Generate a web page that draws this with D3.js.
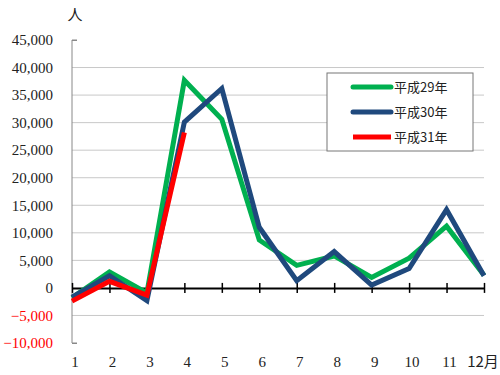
<!DOCTYPE html>
<html lang="ja">
<head>
<meta charset="UTF-8" />
<title>chart</title>
<script src="https://cdn.jsdelivr.net/npm/d3@7"></script>
<style>
  html, body { margin: 0; padding: 0; background: #fff; }
  svg { display: block; }
  .serif { font-family: "Liberation Serif", "Times New Roman", "DejaVu Serif", "Noto Serif CJK JP", serif; }
  .jp { font-family: "Noto Sans CJK JP", sans-serif; }
</style>
</head>
<body>
<svg id="svg"></svg>
<script>
const months = [1, 2, 3, 4, 5, 6, 7, 8, 9, 10, 11, 12];
const monthLabels = ["1", "2", "3", "4", "5", "6", "7", "8", "9", "10", "11", "12月"];
const h29 = [-1800, 2900, -900, 37700, 30600, 8700, 4100, 5800, 1900, 5400, 11200, 2300];
const h30 = [-1700, 2200, -2300, 30100, 36200, 11000, 1300, 6600, 500, 3500, 14200, 2200];
const h31 = [-2400, 1200, -1300, 28200];
const yTicks = [-10000, -5000, 0, 5000, 10000, 15000, 20000, 25000, 30000, 35000, 40000, 45000];
const seriesNames = ["平成29年", "平成30年", "平成31年"];
const seriesColors = ["#00b050", "#1f497d", "#ff0000"];

const width = 500, height = 375;
const svg = d3.select("#svg").attr("width", width).attr("height", height);

const x = d3.scaleLinear().domain([1, 12]).range([72, 484]);
const y = d3.scaleLinear().domain([-10000, 45000]).range([343, 40]);

// gridlines
svg.selectAll(".grid")
  .data(yTicks.filter(d => d !== 0 && d !== 45000 && d !== -10000))
  .join("line")
  .attr("x1", x(1)).attr("x2", x(12))
  .attr("y1", d => y(d)).attr("y2", d => y(d))
  .attr("stroke", "#c8c8c8").attr("stroke-width", 1);

// y axis
const yAxis = svg.append("g").attr("transform", `translate(${x(1)},0)`)
  .call(d3.axisRight(y).tickValues([-10000, 45000]).tickSize(5).tickFormat(""));
yAxis.select(".domain").attr("stroke", "#888").attr("d", `M5,${y(-10000)}H0V${y(45000)}H5`);
yAxis.selectAll(".tick line").attr("stroke", "#888");

svg.selectAll(".ylab")
  .data(yTicks)
  .join("text")
  .attr("class", "serif")
  .attr("x", 53).attr("y", d => y(d)).attr("dy", "0.35em")
  .attr("text-anchor", "end")
  .attr("font-size", 15)
  .attr("fill", d => d < 0 ? "#ff0000" : "#222")
  .text(d => d3.format(",")(d));

svg.append("text").attr("class", "jp").attr("x", 75).attr("y", 20).attr("text-anchor", "middle")
  .attr("font-size", 15).attr("fill", "#222").text("人");

// zero axis with cross ticks
const xAxis = svg.append("g").attr("transform", `translate(0,${y(0)})`)
  .call(d3.axisBottom(x).tickValues(months).tickSize(5).tickSizeOuter(0).tickFormat(""));
xAxis.select(".domain").attr("stroke", "#000").attr("stroke-width", 2);
xAxis.selectAll(".tick line").attr("y1", -5).attr("y2", 5).attr("stroke", "#000").attr("stroke-width", 1.5);

svg.selectAll(".xlab")
  .data(months)
  .join("text")
  .attr("class", (d, i) => i === 11 ? "jp" : "serif")
  .attr("x", (d, i) => i === 11 ? x(d) - 1 : x(d) + 3)
  .attr("y", 367)
  .attr("text-anchor", "middle")
  .attr("font-size", 15).attr("fill", "#222")
  .text((d, i) => monthLabels[i]);

// lines
const line = d3.line().x((d, i) => x(months[i])).y(d => y(d));
[h29, h30, h31].forEach((s, i) => {
  svg.append("path").datum(s)
    .attr("d", line)
    .attr("fill", "none")
    .attr("stroke", seriesColors[i])
    .attr("stroke-width", 5)
    .attr("stroke-linejoin", "miter");
});

// legend
const lg = svg.append("g").attr("transform", "translate(327,73)");
lg.append("rect").attr("width", 146).attr("height", 78)
  .attr("fill", "#fff").attr("stroke", "#777").attr("stroke-width", 1);
seriesNames.forEach((n, i) => {
  const yy = 14 + i * 25;
  lg.append("line").attr("x1", 26).attr("x2", 64).attr("y1", yy).attr("y2", yy)
    .attr("stroke", seriesColors[i]).attr("stroke-width", 5)
    .attr("stroke-linecap", i < 2 ? "round" : "butt");
  lg.append("text").attr("class", "jp").attr("x", 67).attr("y", yy).attr("dy", "0.35em")
    .attr("font-size", 13).attr("fill", "#222").text(n);
});
</script>
</body>
</html>
